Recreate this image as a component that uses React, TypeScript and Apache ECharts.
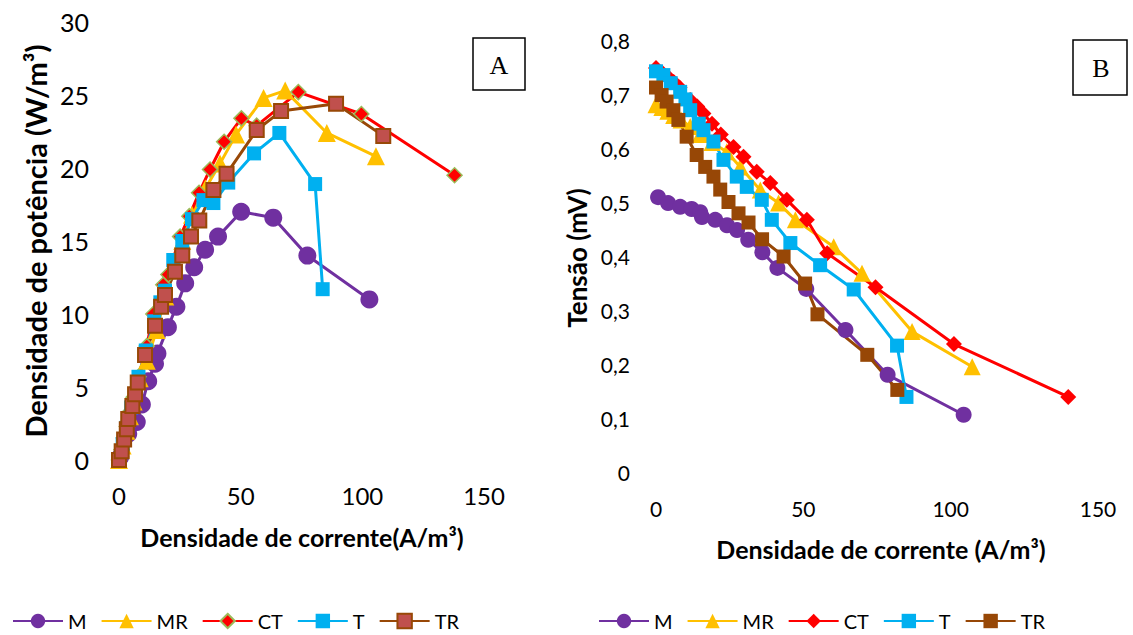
import React, { useEffect, useRef } from "react";
import * as echarts from "echarts";

// ---------- Panel A: power density vs current density ----------
const M_A_x = [0.5, 3.8, 7.3, 9.4, 12.0, 14.8, 15.8, 20.1, 23.6, 27.2, 30.9, 35.4, 40.7, 50.2, 63.4, 77.4, 102.9];
const M_A_y = [0.2, 1.8, 2.6, 3.8, 5.4, 6.6, 7.3, 9.1, 10.5, 12.1, 13.2, 14.4, 15.3, 17.0, 16.6, 14.0, 11.0];
const MR_A_x = [0, 1.5, 3, 4.5, 6, 8.5, 11.4, 15.5, 19, 22.5, 26, 30, 35.5, 41.5, 48.1, 59.4, 68.3, 85.4, 105.6];
const MR_A_y = [0, 1.0, 2.0, 3.0, 4.0, 5.6, 6.8, 8.9, 11.2, 13.2, 15.0, 16.8, 18.6, 20.3, 22.3, 24.8, 25.3, 22.4, 20.8];
const CT_A_x = [0, 1, 2, 3.2, 4.5, 6, 8, 11.4, 14.1, 18.2, 20.3, 25.1, 28.9, 32.9, 37.4, 43.2, 50.3, 56.6, 73.7, 99.6, 137.9];
const CT_A_y = [0, 0.7, 1.5, 2.3, 3.3, 4.3, 5.7, 7.8, 10.0, 12.0, 12.7, 15.3, 16.7, 18.3, 19.9, 21.8, 23.4, 22.9, 25.2, 23.7, 19.5];
const T_A_x = [0, 1.5, 3, 5, 8, 11, 14.5, 17, 18.9, 22.3, 26, 30, 34.7, 38.8, 44.9, 55.5, 65.9, 80.6, 83.7];
const T_A_y = [0, 1.1, 2.2, 3.6, 5.7, 7.5, 9.5, 10.8, 11.6, 13.7, 15.0, 16.5, 17.8, 17.6, 19.0, 21.0, 22.4, 18.9, 11.7];
const TR_A_x = [0, 1.1, 2.1, 3.2, 3.8, 5.5, 6.6, 7.7, 10.7, 14.8, 17.3, 18.9, 23, 26, 29.6, 33, 38.8, 44.2, 56.6, 66.6, 89.2, 108.6];
const TR_A_y = [0, 0.6, 1.4, 2.1, 2.8, 3.7, 4.5, 5.3, 7.2, 9.2, 10.5, 11.3, 12.9, 14.0, 15.3, 16.4, 18.5, 19.6, 22.6, 23.9, 24.4, 22.2];

// ---------- Panel B: voltage vs current density ----------
const M_B_x = [0.7, 4.1, 8.2, 12.1, 15.0, 15.6, 20.1, 24.1, 27.5, 31.3, 36.1, 41.2, 51.0, 64.3, 78.6, 104.4];
const M_B_y = [0.509, 0.498, 0.491, 0.487, 0.481, 0.472, 0.467, 0.457, 0.448, 0.43, 0.407, 0.378, 0.339, 0.263, 0.18, 0.106];
const MR_B_x = [0, 2, 4, 6, 8.5, 11.6, 15, 19, 24, 28.6, 35.4, 41.6, 47.3, 60.3, 69.9, 86.9, 107.3];
const MR_B_y = [0.68, 0.675, 0.668, 0.66, 0.652, 0.64, 0.625, 0.61, 0.593, 0.565, 0.522, 0.498, 0.467, 0.417, 0.368, 0.26, 0.195];
const CT_B_x = [0, 2, 4, 6, 8, 11.6, 14, 16.1, 19, 22, 26.3, 29.7, 34.2, 38.8, 44.4, 51.2, 58.1, 74.5, 101.1, 139.9];
const CT_B_y = [0.748, 0.74, 0.732, 0.722, 0.712, 0.689, 0.677, 0.664, 0.645, 0.625, 0.602, 0.584, 0.556, 0.535, 0.504, 0.467, 0.405, 0.342, 0.237, 0.139];
const T_B_x = [0, 2.5, 5, 8.2, 10, 11.6, 14.5, 16.1, 19.5, 22.9, 27.4, 30.8, 35.9, 39.3, 45.6, 55.7, 67.1, 81.8, 85];
const T_B_y = [0.742, 0.735, 0.72, 0.704, 0.69, 0.67, 0.645, 0.633, 0.612, 0.578, 0.547, 0.528, 0.504, 0.467, 0.424, 0.383, 0.338, 0.234, 0.139];
const TR_B_x = [0, 1.9, 3.6, 5.9, 7.6, 10.4, 13.8, 16.7, 19.5, 21.8, 24.6, 28, 31.4, 36, 43.3, 50.6, 54.8, 71.7, 81.9];
const TR_B_y = [0.712, 0.698, 0.686, 0.67, 0.652, 0.621, 0.587, 0.565, 0.547, 0.523, 0.5, 0.479, 0.462, 0.431, 0.399, 0.349, 0.292, 0.217, 0.152];

const seriesNames = ["M", "MR", "CT", "T", "TR"];
const xTitleA = "Densidade de corrente(A/m³)";
const xTitleB = "Densidade de corrente (A/m³)";
const yTitleA = "Densidade de potência (W/m³)";
const yTitleB = "Tensão (mV)";

const FONT = "Lato, 'Noto Sans', sans-serif";
const SPLIT = 540; // left edge of the second chart's canvas
const zip = (xs: number[], ys: number[]) => xs.map((x, i) => [x, ys[i]]);

function line(name: string, data: number[][], symbol: string, size: number, color: string, lineColor: string, border?: string, bw = 0) {
  return {
    type: "line",
    name,
    data,
    symbol,
    symbolSize: size,
    lineStyle: { width: 3, color: lineColor },
    itemStyle: { color, borderColor: border || color, borderWidth: bw, opacity: 1 },
    emphasis: { disabled: true },
  };
}

function axisCommon(min: number, max: number, interval: number, fontSize: number, margin: number, fmt?: (v: number) => string) {
  return {
    type: "value",
    min,
    max,
    interval,
    axisLine: { show: false },
    axisTick: { show: false },
    splitLine: { show: false },
    axisLabel: { fontSize, color: "#000", fontFamily: FONT, margin, formatter: fmt },
  };
}

function legendCfg(left: number) {
  return {
    left,
    top: 606,
    itemWidth: 50,
    itemHeight: 18,
    itemGap: 14,
    textStyle: { fontSize: 20, color: "#000", fontFamily: FONT, lineHeight: 20 },
    data: seriesNames,
  };
}

function optionA() {
  return {
    animation: false,
    grid: { left: 119, right: SPLIT - 484, top: 22, bottom: 175 },
    xAxis: axisCommon(0, 150, 50, 24, 23),
    yAxis: axisCommon(0, 30, 5, 25, 30),
    legend: legendCfg(7),
    series: [
      line("M", zip(M_A_x, M_A_y), "circle", 18, "#7030A0", "#7030A0"),
      line("MR", zip(MR_A_x, MR_A_y), "triangle", 18, "#FFC000", "#FFC000"),
      line("CT", zip(CT_A_x, CT_A_y), "diamond", 15, "#FF0000", "#FF0000", "#9BBB59", 1.5),
      line("T", zip(T_A_x, T_A_y), "rect", 14, "#00B0F0", "#00B0F0"),
      line("TR", zip(TR_A_x, TR_A_y), "rect", 14, "#C0504D", "#984807", "#984807", 2),
    ],
    graphic: [
      { type: "text", x: 35, y: 241, rotation: Math.PI / 2, style: { text: yTitleA, fontSize: 29, fontWeight: "bold", fontFamily: FONT, fill: "#000", align: "center", verticalAlign: "middle" } },
      { type: "text", x: 302, y: 537, style: { text: xTitleA, fontSize: 25, fontWeight: "bold", fontFamily: FONT, fill: "#000", align: "center", verticalAlign: "middle" } },
      { type: "rect", shape: { x: 473, y: 38, width: 52, height: 52 }, style: { fill: "#fff", stroke: "#000", lineWidth: 1.5 } },
      { type: "text", x: 499, y: 65, style: { text: "A", fontSize: 26, fontFamily: "'Liberation Serif', serif", fill: "#000", align: "center", verticalAlign: "middle" } },
    ],
  };
}

function optionB() {
  const fmt = (v: number) => (v === 0 ? "0" : v.toFixed(1).replace(".", ","));
  return {
    animation: false,
    grid: { left: 656 - SPLIT, right: 35, top: 40, bottom: 163 },
    xAxis: axisCommon(0, 150, 50, 21, 26),
    yAxis: axisCommon(0, 0.8, 0.1, 21, 26, fmt),
    legend: legendCfg(593 - SPLIT),
    series: [
      line("M", zip(M_B_x, M_B_y), "circle", 16, "#7030A0", "#7030A0"),
      line("MR", zip(MR_B_x, MR_B_y), "triangle", 17, "#FFC000", "#FFC000"),
      line("CT", zip(CT_B_x, CT_B_y), "diamond", 16, "#FF0000", "#FF0000"),
      line("T", zip(T_B_x, T_B_y), "rect", 14, "#00B0F0", "#00B0F0"),
      line("TR", zip(TR_B_x, TR_B_y), "rect", 14, "#974706", "#974706"),
    ],
    graphic: [
      { type: "text", x: 577 - SPLIT, y: 258, rotation: Math.PI / 2, style: { text: yTitleB, fontSize: 26, fontWeight: "bold", fontFamily: FONT, fill: "#000", align: "center", verticalAlign: "middle" } },
      { type: "text", x: 881 - SPLIT, y: 549, style: { text: xTitleB, fontSize: 25, fontWeight: "bold", fontFamily: FONT, fill: "#000", align: "center", verticalAlign: "middle" } },
      { type: "rect", shape: { x: 1073 - SPLIT, y: 40, width: 54, height: 55 }, style: { fill: "#fff", stroke: "#000", lineWidth: 1.5 } },
      { type: "text", x: 1101 - SPLIT, y: 68, style: { text: "B", fontSize: 26, fontFamily: "'Liberation Serif', serif", fill: "#000", align: "center", verticalAlign: "middle" } },
    ],
  };
}

export default function App() {
  const refA = useRef<HTMLDivElement>(null);
  const refB = useRef<HTMLDivElement>(null);
  useEffect(() => {
    const a = echarts.init(refA.current!, null, { renderer: "svg" });
    const b = echarts.init(refB.current!, null, { renderer: "svg" });
    a.setOption(optionA() as any);
    b.setOption(optionB() as any);
    return () => {
      a.dispose();
      b.dispose();
    };
  }, []);
  return (
    <div style={{ position: "fixed", left: 0, top: 0, width: 1133, height: 635, background: "#fff" }}>
      <div ref={refA} style={{ position: "absolute", left: 0, top: 0, width: SPLIT, height: 635 }} />
      <div ref={refB} style={{ position: "absolute", left: SPLIT, top: 0, width: 1133 - SPLIT, height: 635 }} />
    </div>
  );
}
